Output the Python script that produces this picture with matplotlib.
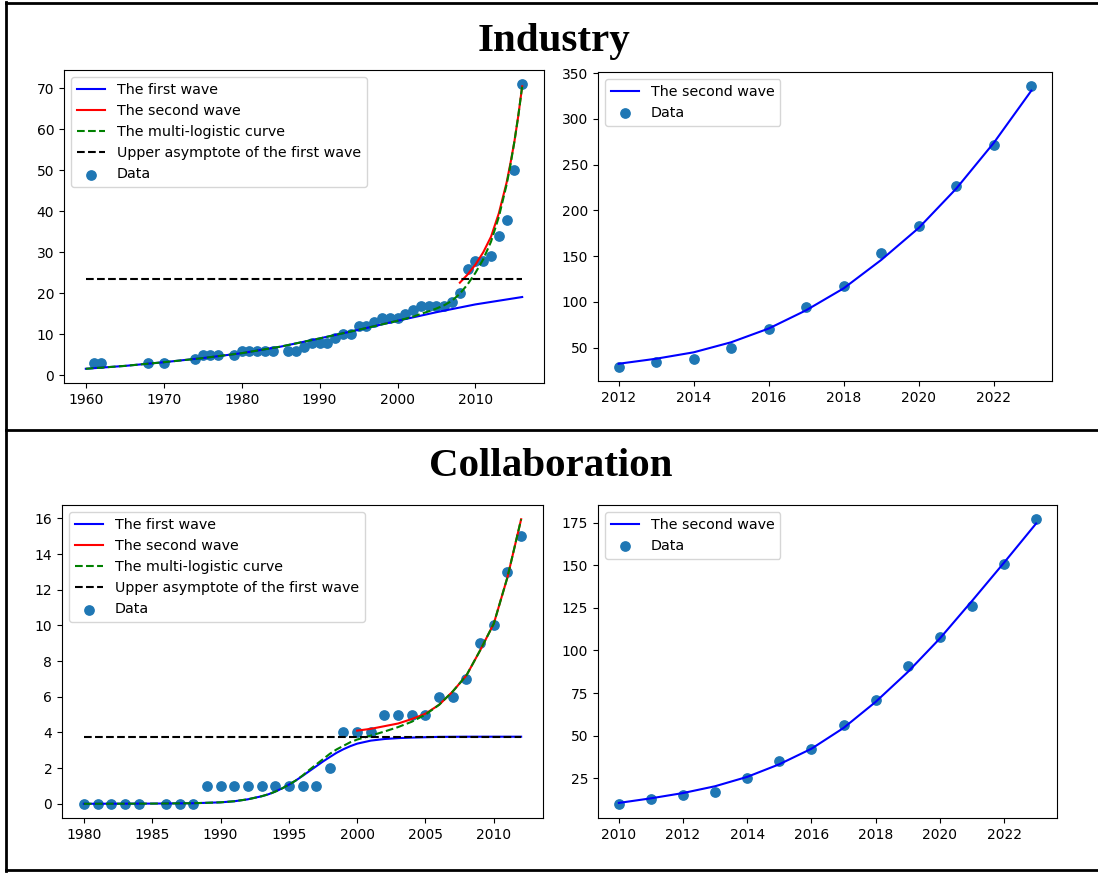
import matplotlib
matplotlib.use("Agg")
import matplotlib.pyplot as plt
from matplotlib.lines import Line2D

# ---- Industry, full period
ind_years = [1961, 1962, 1968, 1970, 1974, 1975, 1976, 1977, 1979, 1980, 1981, 1982, 1983, 1984,
             1986, 1987, 1988, 1989, 1990, 1991, 1992, 1993, 1994, 1995, 1996, 1997, 1998, 1999,
             2000, 2001, 2002, 2003, 2004, 2005, 2006, 2007, 2008, 2009, 2010, 2011, 2012, 2013,
             2014, 2015, 2016]
ind_counts = [3, 3, 3, 3, 4, 5, 5, 5, 5, 6, 6, 6, 6, 6,
              6, 6, 7, 8, 8, 8, 9, 10, 10, 12, 12, 13, 14, 14,
              14, 15, 16, 17, 17, 17, 17, 18, 20, 26, 28, 28, 29, 34,
              38, 50, 71]

ind_w1_years = [1960, 1965, 1970, 1975, 1980, 1985, 1990, 1995, 2000, 2005, 2010, 2016]
ind_w1 = [1.6, 2.3, 3.2, 4.2, 5.4, 7.0, 9.0, 11.1, 13.3, 15.4, 17.3, 19.1]

ind_w2_years = [2008, 2009, 2010, 2011, 2012, 2013, 2014, 2014.5, 2015, 2015.5, 2016]
ind_w2 = [22.6, 24.6, 27.0, 30.0, 33.8, 39.5, 47.0, 51.8, 57.0, 63.3, 70.5]

ind_multi_years = [1960, 1965, 1970, 1975, 1980, 1985, 1990, 1995, 2000, 2002, 2003, 2004, 2005,
                   2006, 2007, 2008, 2009, 2010, 2011, 2012, 2013, 2014, 2014.5, 2015, 2015.5, 2016]
ind_multi = [1.6, 2.3, 3.2, 4.2, 5.4, 7.0, 9.0, 11.1, 13.3, 14.3, 15.0, 15.6, 16.3,
             17.1, 18.2, 19.9, 22.2, 25.0, 28.3, 32.6, 38.6, 46.5, 51.4, 57.0, 63.3, 70.5]

ind_k1 = 23.5

# ---- Industry, second wave
ind2_years = [2012, 2013, 2014, 2015, 2016, 2017, 2018, 2019, 2020, 2021, 2022, 2023]
ind2_counts = [29, 34, 38, 50, 71, 94, 118, 154, 183, 227, 272, 336]
ind2_fit = [32.5, 38, 45, 56, 71, 91, 115, 146, 181, 224, 274, 331]

# ---- Collaboration, full period
col_years = [1980, 1981, 1982, 1983, 1984, 1986, 1987, 1988, 1989, 1990, 1991, 1992, 1993, 1994,
             1995, 1996, 1997, 1998, 1999, 2000, 2001, 2002, 2003, 2004, 2005, 2006, 2007, 2008,
             2009, 2010, 2011, 2012]
col_counts = [0, 0, 0, 0, 0, 0, 0, 0, 1, 1, 1, 1, 1, 1,
              1, 1, 1, 2, 4, 4, 4, 5, 5, 5, 5, 6, 6, 7,
              9, 10, 13, 15]

col_w1_years = [1980, 1985, 1988, 1990, 1991, 1992, 1993, 1993.5, 1994, 1994.5, 1995, 1995.5, 1996,
                1996.5, 1997, 1997.5, 1998, 1998.5, 1999, 1999.5, 2000, 2001, 2002, 2003, 2004,
                2005, 2006, 2008, 2012]
col_w1 = [0.0, 0.01, 0.03, 0.08, 0.14, 0.25, 0.42, 0.53, 0.68, 0.86, 1.07, 1.30, 1.56,
          1.83, 2.10, 2.37, 2.62, 2.86, 3.06, 3.23, 3.37, 3.54, 3.63, 3.68, 3.71,
          3.73, 3.75, 3.76, 3.76]

col_w2_years = [2000, 2001, 2002, 2003, 2004, 2005, 2006, 2007, 2008, 2009, 2010, 2011, 2012]
col_w2 = [4.1, 4.2, 4.35, 4.5, 4.75, 5.05, 5.55, 6.3, 7.2, 8.6, 10.1, 12.7, 15.95]

col_multi_years = [1980, 1985, 1988, 1990, 1991, 1992, 1993, 1993.5, 1994, 1994.5, 1995, 1995.5, 1996,
                   1996.5, 1997, 1997.5, 1998, 1998.5, 1999, 1999.5, 2000, 2001, 2002, 2003, 2004,
                   2005, 2006, 2007, 2008, 2009, 2010, 2011, 2012]
col_multi = [0.0, 0.01, 0.03, 0.08, 0.14, 0.25, 0.42, 0.53, 0.68, 0.86, 1.07, 1.30, 1.58,
             1.9, 2.2, 2.5, 2.8, 3.05, 3.25, 3.45, 3.6, 3.82, 4.05, 4.3, 4.6,
             5.0, 5.55, 6.3, 7.2, 8.6, 10.1, 12.7, 15.95]

col_k1 = 3.76

# ---- Collaboration, second wave
col2_years = [2010, 2011, 2012, 2013, 2014, 2015, 2016, 2017, 2018, 2019, 2020, 2021, 2022, 2023]
col2_counts = [10, 13, 15, 17, 25, 35, 42, 56, 71, 91, 108, 126, 151, 177]
col2_fit = [10.5, 13.2, 16.3, 20.3, 25.8, 33.2, 42.3, 54.5, 69.8, 87.3, 107, 129, 151.5, 174.5]


W, H = 1098, 873
fig = plt.figure(figsize=(W / 100, H / 100), dpi=100)


def px_axes(left, top, right, bottom):
    return fig.add_axes([left / W, 1 - bottom / H, (right - left) / W, (bottom - top) / H])


def full_panel(ax, w1x, w1, w2x, w2, mx, m, k1, x0, x1, dx, dy):
    ax.plot(w1x, w1, color='b', label='The first wave')
    ax.plot(w2x, w2, color='r', label='The second wave')
    ax.plot(mx, m, 'g--', label='The multi-logistic curve')
    ax.plot([x0, x1], [k1, k1], 'k--', label='Upper asymptote of the first wave')
    ax.scatter(dx, dy, s=45, label='Data')
    ax.legend(loc='upper left', fontsize=10.3)


def wave_panel(ax, yrs, fit, cnt):
    ax.plot(yrs, fit, color='b', label='The second wave')
    ax.scatter(yrs, cnt, s=45, label='Data')
    ax.legend(loc='upper left', fontsize=10.3)


ax1 = px_axes(64, 70, 544, 383)
full_panel(ax1, ind_w1_years, ind_w1, ind_w2_years, ind_w2, ind_multi_years, ind_multi,
           ind_k1, 1960, 2016, ind_years, ind_counts)
ax1.set_yticks([0, 10, 20, 30, 40, 50, 60, 70])

ax2 = px_axes(598, 72, 1052, 381)
wave_panel(ax2, ind2_years, ind2_fit, ind2_counts)
ax2.set_xticks([2012, 2014, 2016, 2018, 2020, 2022])

ax3 = px_axes(62, 505, 543, 818)
full_panel(ax3, col_w1_years, col_w1, col_w2_years, col_w2, col_multi_years, col_multi,
           col_k1, 1980, 2012, col_years, col_counts)
ax3.set_yticks([0, 2, 4, 6, 8, 10, 12, 14, 16])

ax4 = px_axes(598, 505, 1057, 818)
wave_panel(ax4, col2_years, col2_fit, col2_counts)
ax4.set_xticks([2010, 2012, 2014, 2016, 2018, 2020, 2022])

# section titles
fig.text(554 / W, 1 - 51 / H, 'Industry', ha='center', va='baseline',
         family='Liberation Serif', weight='bold', fontsize=29.5)
fig.text(551 / W, 1 - 476 / H, 'Collaboration', ha='center', va='baseline',
         family='Liberation Serif', weight='bold', fontsize=29.5)

# frame around the two sections
for xs, ys in [([6, 6], [2, 871]), ([6, W], [2.5, 2.5]), ([6, W], [430, 430]), ([6, W], [870, 870])]:
    fig.add_artist(Line2D([x / W for x in xs], [1 - y / H for y in ys],
                          transform=fig.transFigure, color='black', lw=2))

plt.savefig('out.png', dpi=100)
